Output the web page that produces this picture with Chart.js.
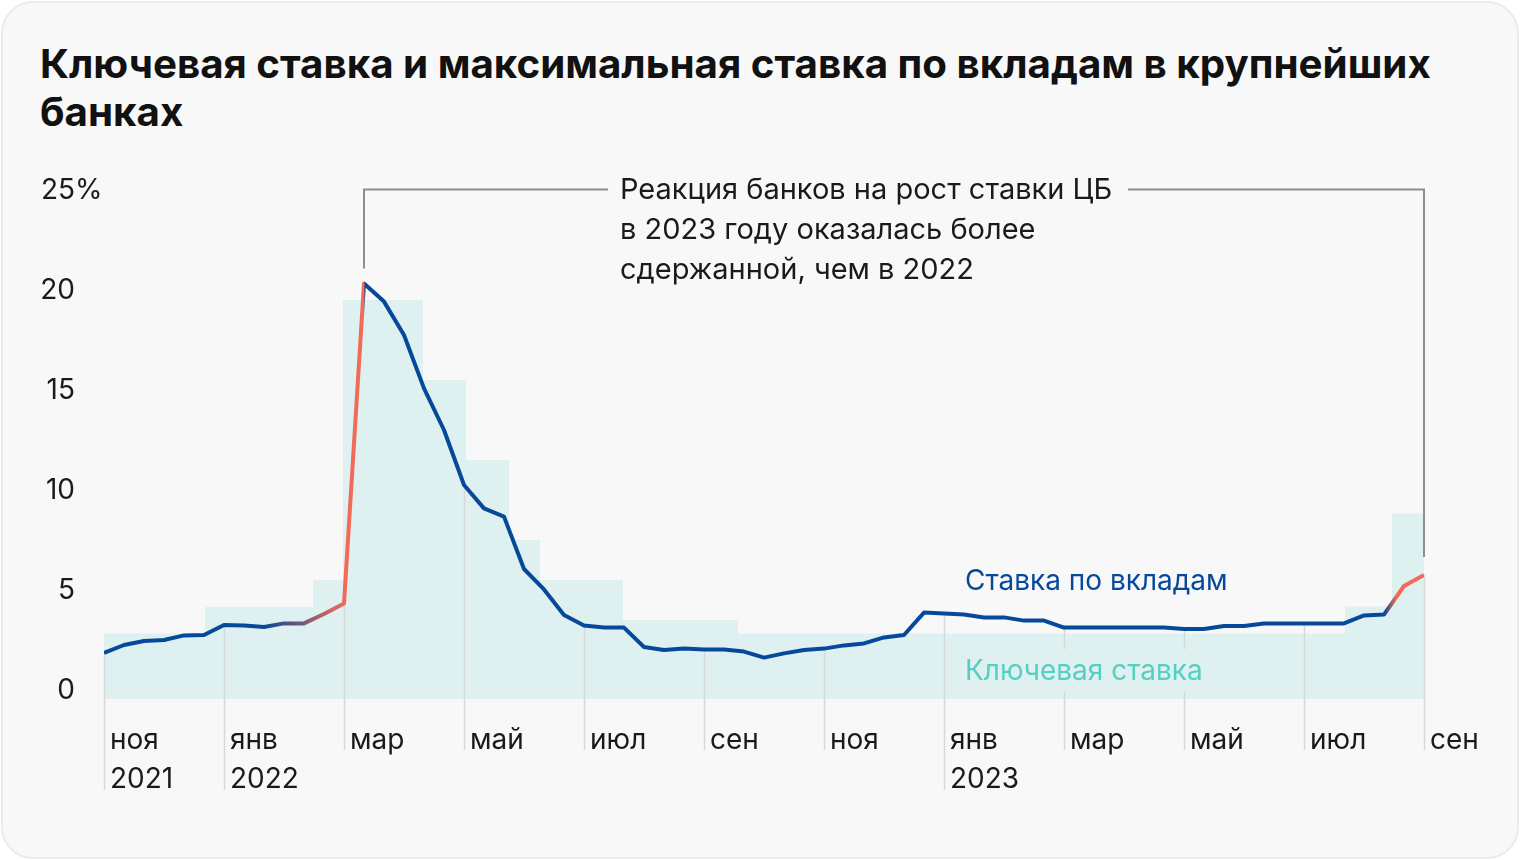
<!DOCTYPE html>
<html lang="ru">
<head>
<meta charset="utf-8">
<title>Ключевая ставка и ставки по вкладам</title>
<script src="https://cdn.jsdelivr.net/npm/chart.js@4.4.1/dist/chart.umd.min.js"></script>
<style>
  html, body { margin: 0; padding: 0; background: #fff; }
  #card {
    position: absolute; left: 1px; top: 1px; width: 1514px; height: 854px;
    background: #f8f8f8; border: 2px solid #ebebeb; border-radius: 32px;
  }
  #title {
    position: absolute; left: 40px; top: 40px; margin: 0;
    font-family: Inter, "Noto Sans", sans-serif; font-weight: 700;
    font-size: 40.3px; line-height: 48px; color: #111;
  }
  #chart { position: absolute; left: 0; top: 0; }
</style>
</head>
<body>
<div id="card"></div>
<h1 id="title">Ключевая ставка и максимальная ставка по вкладам в крупнейших<br>банках</h1>
<canvas id="chart" width="1520" height="860"></canvas>
<script>
// x = номер декады с 1 ноября 2021 (3 точки в месяц)
const monthLabels = ['ноя', 'янв', 'мар', 'май', 'июл', 'сен', 'ноя', 'янв', 'мар', 'май', 'июл', 'сен'];
const yearLabels = ['2021', '2022', '', '', '', '', '', '2023', '', '', '', ''];
const monthTicks = [0, 6, 12, 18, 24, 30, 36, 42, 48, 54, 60, 66];
const yTicks = [0, 5, 10, 15, 20, 25];

// максимальная ставка по вкладам, %
const depositRate = [
  1.8, 2.2, 2.4, 2.45, 2.68, 2.7, 3.2, 3.17, 3.1, 3.28, 3.28, 3.75, 4.28,
  20.28, 19.37, 17.7, 15.03, 12.95, 10.2, 9.03, 8.62, 6.0, 4.98, 3.7, 3.17,
  3.07, 3.07, 2.1, 1.95, 2.02, 1.98, 1.98, 1.87, 1.57, 1.78, 1.95, 2.02,
  2.18, 2.28, 2.58, 2.7, 3.82, 3.78, 3.72, 3.58, 3.58, 3.42, 3.42, 3.07,
  3.07, 3.07, 3.07, 3.07, 3.07, 3.0, 3.0, 3.15, 3.15, 3.28, 3.28, 3.28,
  3.28, 3.28, 3.68, 3.72, 5.15, 5.7
];

// ключевая ставка: начало периода и значение
const keyRateFrom = [0, 5.05, 10.45, 11.95, 15.95, 18.1, 20.25, 21.8, 25.95, 31.7, 62.05, 64.4];
const keyRate = [2.78, 4.1, 5.45, 19.45, 15.45, 11.45, 7.45, 5.45, 3.45, 2.78, 4.12, 8.78];
const keyRateEnd = 66;

const blue = '#06489a';
const red = '#f26a5a';
const areaColor = '#dff0f0';
const gridColor = '#d6d9d9';
const annColor = '#8e8e8e';
const FONT = 'Inter, "Noto Sans", sans-serif';

// где линия красная (рост ставок)
const gradStops = [8, 12, 13, 13.05, 64, 64.6];
const gradColors = [blue, red, red, blue, blue, red];

let keyData = keyRateFrom.map((x, i) => ({ x: x, y: keyRate[i] }));
keyData.push({ x: keyRateEnd, y: keyRate[keyRate.length - 1] });
let depData = depositRate.map((v, i) => ({ x: i, y: v }));

function lineColor(ctx) {
  const chart = ctx.chart;
  if (!chart.chartArea) return blue;
  const xs = chart.scales.x;
  const g = chart.ctx.createLinearGradient(xs.left, 0, xs.right, 0);
  for (let i = 0; i < gradStops.length; i++) {
    let f = (xs.getPixelForValue(gradStops[i]) - xs.left) / (xs.right - xs.left);
    g.addColorStop(Math.min(Math.max(f, 0), 1), gradColors[i]);
  }
  return g;
}

const decor = {
  id: 'decor',
  afterDatasetDraw(chart, args) {
    if (args.index !== 1) return;
    const c = chart.ctx, xs = chart.scales.x, ys = chart.scales.y;
    c.save();
    // вертикальные линии месяцев
    c.strokeStyle = gridColor;
    c.lineWidth = 1.5;
    monthTicks.forEach((t, i) => {
      const x = Math.round(xs.getPixelForValue(t)) + 0.5;
      const yTop = ys.getPixelForValue(depositRate[t]);
      const yBot = yearLabels[i] ? 790 : 750;
      c.beginPath();
      c.moveTo(x, yTop);
      c.lineTo(x, yBot);
      c.stroke();
    });
    // подписи серий
    c.font = '28px ' + FONT;
    c.textBaseline = 'middle';
    c.textAlign = 'left';
    const lx = 965;
    const keyW = c.measureText('Ключевая ставка').width;
    c.fillStyle = areaColor;
    c.fillRect(lx - 8, 649, keyW + 16, 42);
    c.fillStyle = '#55cfc1';
    c.fillText('Ключевая ставка', lx, 672);
    c.fillStyle = blue;
    c.fillText('Ставка по вкладам', lx, 582);

    // знак процента у верхней отметки
    c.fillStyle = '#1a1a1a';
    c.fillText('%', 75, ys.getPixelForValue(25) + 2);

    // выноска
    const x1 = xs.getPixelForValue(13), x2 = xs.getPixelForValue(66);
    const yT = Math.round(ys.getPixelForValue(25)) + 0.5;
    c.strokeStyle = annColor;
    c.lineWidth = 2;
    c.beginPath();
    c.moveTo(x1, ys.getPixelForValue(depositRate[13]) - 15);
    c.lineTo(x1, yT);
    c.lineTo(608, yT);
    c.moveTo(1128, yT);
    c.lineTo(x2, yT);
    c.lineTo(x2, ys.getPixelForValue(depositRate[66]) - 18);
    c.stroke();
    c.font = '29px ' + FONT;
    c.fillStyle = '#1a1a1a';
    const note = ['Реакция банков на рост ставки ЦБ', 'в 2023 году оказалась более', 'сдержанной, чем в 2022'];
    note.forEach((s, i) => c.fillText(s, 620, yT + 1 + i * 40));
    c.restore();
  }
};

new Chart(document.getElementById('chart'), {
  type: 'line',
  data: {
    datasets: [
      {
        label: 'Ставка по вкладам',
        data: depData,
        borderColor: lineColor,
        borderWidth: 4,
        borderJoinStyle: 'round',
        pointRadius: 0,
        fill: false,
        tension: 0
      },
      {
        label: 'Ключевая ставка',
        data: keyData,
        stepped: true,
        borderWidth: 0,
        borderColor: 'rgba(0,0,0,0)',
        backgroundColor: areaColor,
        pointRadius: 0,
        fill: 'start'
      }
    ]
  },
  options: {
    responsive: false,
    devicePixelRatio: 1,
    animation: false,
    layout: { padding: { left: 40, top: 189, right: 96, bottom: 0 } },
    plugins: { legend: { display: false }, tooltip: { enabled: false } },
    scales: {
      x: {
        type: 'linear',
        min: 0,
        max: 66,
        grid: { display: false, drawTicks: false },
        border: { display: false },
        afterBuildTicks: (axis) => { axis.ticks = monthTicks.map(v => ({ value: v })); },
        afterFit: (axis) => { axis.height = 161; },
        ticks: {
          align: 'start',
          labelOffset: 6,
          padding: 22,
          autoSkip: false,
          maxRotation: 0,
          color: '#1a1a1a',
          font: { family: FONT, size: 28, lineHeight: 1.39 },
          callback: (v, i) => yearLabels[i] ? [monthLabels[i], yearLabels[i]] : monthLabels[i]
        }
      },
      y: {
        min: -0.5,
        max: 25,
        grid: { display: false, drawTicks: false },
        border: { display: false },
        afterBuildTicks: (axis) => { axis.ticks = yTicks.map(v => ({ value: v })); },
        afterFit: (axis) => { axis.width = 64; },
        ticks: {
          padding: 29,
          labelOffset: 2,
          color: '#1a1a1a',
          font: { family: FONT, size: 28 },
          callback: (v) => String(v)
        }
      }
    }
  },
  plugins: [decor]
});
</script>
</body>
</html>
